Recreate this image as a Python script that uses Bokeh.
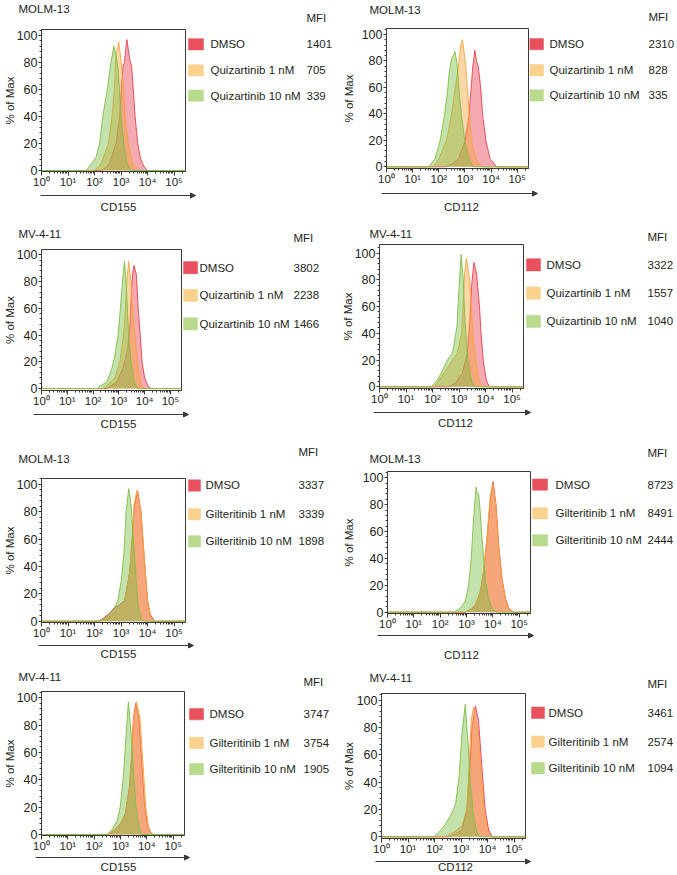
import math
from bokeh.plotting import figure
from bokeh.models import Arrow, NormalHead, FixedTicker, SingleIntervalTicker, Range1d
from bokeh.core.properties import value
from bokeh.layouts import column, row
from bokeh.embed import file_html
from bokeh.resources import INLINE

# ---------------- data (x in decades = log10 of intensity; y in % of Max) ----------------
DECADE_TICKS = [0, 1, 2, 3, 4, 5]
DECADE_LABELS = ["10⁰", "10¹", "10²", "10³", "10⁴", "10⁵"]
X_MAX = 5.43

m13_cd155_quiz_dmso_x = [0, 2.3, 2.56, 2.81, 2.95, 3.02, 3.08, 3.13, 3.18, 3.22, 3.27, 3.33, 3.4, 3.46, 3.53, 3.63, 3.72, 3.81, 3.9, 4.0, 5.43]
m13_cd155_quiz_dmso_y = [0, 0, 5, 20, 40, 64, 78, 80, 90, 97, 90, 82, 77, 60, 40, 20, 10, 5, 2, 0, 0]
m13_cd155_quiz_1nm_x = [0, 2.0, 2.25, 2.52, 2.66, 2.75, 2.81, 2.86, 2.91, 2.96, 3.02, 3.09, 3.15, 3.27, 3.44, 3.62, 5.43]
m13_cd155_quiz_1nm_y = [0, 0, 5, 20, 40, 60, 88, 90, 95, 88, 77, 60, 40, 20, 5, 0, 0]
m13_cd155_quiz_10nm_x = [0, 1.69, 1.88, 2.06, 2.19, 2.31, 2.48, 2.62, 2.73, 2.81, 2.88, 2.94, 3.0, 3.1, 3.23, 3.38, 5.43]
m13_cd155_quiz_10nm_y = [0, 0, 5, 10, 20, 40, 60, 80, 92, 85, 77, 60, 40, 20, 5, 0, 0]

m13_cd112_quiz_dmso_x = [0, 2.24, 2.5, 2.75, 3.0, 3.15, 3.23, 3.3, 3.38, 3.44, 3.51, 3.61, 3.68, 3.81, 3.96, 4.21, 5.43]
m13_cd112_quiz_dmso_y = [0, 0, 2, 6, 19, 38, 58, 76, 88, 80, 76, 58, 38, 19, 6, 0, 0]
m13_cd112_quiz_1nm_x = [0, 1.79, 1.98, 2.3, 2.49, 2.62, 2.75, 2.84, 2.9, 2.96, 3.03, 3.1, 3.17, 3.26, 3.41, 3.64, 5.43]
m13_cd112_quiz_1nm_y = [0, 0, 5, 20, 40, 58, 76, 92, 96, 88, 76, 58, 38, 19, 6, 0, 0]
m13_cd112_quiz_10nm_x = [0, 1.62, 1.85, 2.04, 2.21, 2.34, 2.39, 2.49, 2.56, 2.62, 2.71, 2.77, 2.87, 3.0, 3.15, 3.32, 5.43]
m13_cd112_quiz_10nm_y = [0, 0, 6, 19, 38, 58, 70, 82, 84, 87, 76, 58, 38, 19, 6, 0, 0]

mv4_cd155_quiz_dmso_x = [0, 2.54, 2.91, 3.16, 3.35, 3.44, 3.49, 3.55, 3.59, 3.68, 3.75, 3.83, 3.9, 4.0, 4.13, 4.25, 5.43]
mv4_cd155_quiz_dmso_y = [0, 0, 5, 15, 30, 50, 75, 88, 92, 85, 60, 40, 20, 8, 2, 0, 0]
mv4_cd155_quiz_1nm_x = [0, 2.42, 2.85, 3.04, 3.18, 3.26, 3.31, 3.38, 3.47, 3.53, 3.62, 3.72, 3.84, 3.97, 5.43]
mv4_cd155_quiz_1nm_y = [0, 0, 8, 20, 40, 60, 80, 95, 80, 60, 40, 20, 5, 0, 0]
mv4_cd155_quiz_10nm_x = [0, 0.08, 2.17, 2.29, 2.54, 2.73, 2.85, 2.97, 3.06, 3.14, 3.22, 3.28, 3.33, 3.38, 3.47, 3.59, 3.72, 5.43]
mv4_cd155_quiz_10nm_y = [1.5, 0, 0, 2, 5, 15, 25, 40, 60, 80, 95, 80, 60, 40, 20, 5, 0, 0]

mv4_cd112_quiz_dmso_x = [0, 2.62, 2.87, 3.12, 3.31, 3.41, 3.47, 3.56, 3.66, 3.77, 3.83, 3.91, 4.03, 4.14, 5.43]
mv4_cd112_quiz_dmso_y = [0, 0, 3, 10, 25, 50, 75, 93, 85, 60, 40, 20, 5, 0, 0]
mv4_cd112_quiz_1nm_x = [0, 2.06, 2.25, 2.5, 2.75, 2.93, 3.1, 3.15, 3.21, 3.28, 3.4, 3.46, 3.52, 3.62, 3.75, 3.87, 5.43]
mv4_cd112_quiz_1nm_y = [0, 0, 5, 12, 20, 25, 40, 60, 85, 96, 80, 60, 40, 20, 5, 0, 0]
mv4_cd112_quiz_10nm_x = [0, 1.94, 2.18, 2.37, 2.56, 2.75, 2.92, 3.0, 3.08, 3.16, 3.22, 3.33, 3.46, 3.58, 5.43]
mv4_cd112_quiz_10nm_y = [0, 0, 5, 12, 20, 25, 45, 75, 99, 80, 50, 20, 5, 0, 0]

m13_cd155_gilt_dmso_x = [0, 2.14, 2.32, 2.57, 2.76, 2.94, 3.13, 3.32, 3.44, 3.5, 3.63, 3.75, 3.88, 4.0, 4.1, 4.25, 5.43]
m13_cd155_gilt_dmso_y = [0, 0, 2, 6, 10, 12, 15, 35, 65, 85, 95, 80, 45, 15, 5, 0, 0]
m13_cd155_gilt_1nm_x = [0, 2.3, 2.6, 2.9, 3.13, 3.32, 3.44, 3.5, 3.6, 3.75, 3.88, 4.0, 4.1, 4.22, 5.43]
m13_cd155_gilt_1nm_y = [0, 0, 4, 9, 14, 35, 66, 86, 96, 80, 45, 15, 4, 0, 0]
m13_cd155_gilt_10nm_x = [0, 2.14, 2.26, 2.51, 2.76, 2.88, 3.01, 3.11, 3.19, 3.29, 3.38, 3.48, 3.57, 3.65, 3.75, 3.85, 5.43]
m13_cd155_gilt_10nm_y = [0, 0, 1, 4, 10, 15, 30, 50, 80, 97, 85, 55, 30, 10, 2, 0, 0]

m13_cd112_gilt_dmso_x = [0, 2.95, 3.14, 3.33, 3.52, 3.65, 3.78, 3.91, 4.01, 4.12, 4.22, 4.35, 4.48, 4.61, 4.76, 5.43]
m13_cd112_gilt_dmso_y = [0, 0, 2, 5, 15, 30, 55, 85, 97, 80, 50, 25, 10, 3, 0, 0]
m13_cd112_gilt_1nm_x = [0, 2.95, 3.14, 3.33, 3.52, 3.65, 3.78, 3.9, 4.0, 4.11, 4.21, 4.34, 4.47, 4.6, 4.75, 5.43]
m13_cd112_gilt_1nm_y = [0, 0, 2, 5, 15, 30, 56, 86, 96, 80, 50, 25, 10, 3, 0, 0]
m13_cd112_gilt_10nm_x = [0, 2.51, 2.76, 2.95, 3.08, 3.18, 3.27, 3.36, 3.41, 3.46, 3.52, 3.61, 3.71, 3.84, 3.97, 4.12, 5.43]
m13_cd112_gilt_10nm_y = [0, 0, 3, 8, 20, 40, 70, 93, 88, 88, 75, 50, 25, 10, 3, 0, 0]

mv4_cd155_gilt_dmso_x = [0, 2.56, 2.81, 3.0, 3.18, 3.34, 3.43, 3.49, 3.58, 3.7, 3.8, 3.9, 4.01, 4.13, 4.23, 5.43]
mv4_cd155_gilt_dmso_y = [0, 0, 4, 8, 15, 35, 60, 85, 96, 85, 55, 25, 8, 2, 0, 0]
mv4_cd155_gilt_1nm_x = [0, 2.5, 2.81, 3.0, 3.18, 3.34, 3.43, 3.5, 3.61, 3.74, 3.86, 3.96, 4.07, 4.2, 5.43]
mv4_cd155_gilt_1nm_y = [0, 0, 4, 8, 15, 33, 58, 85, 97, 85, 50, 20, 5, 0, 0]
mv4_cd155_gilt_10nm_x = [0, 2.5, 2.69, 2.87, 2.99, 3.12, 3.22, 3.3, 3.4, 3.49, 3.59, 3.7, 3.8, 5.43]
mv4_cd155_gilt_10nm_y = [0, 0, 4, 10, 20, 45, 75, 97, 75, 45, 20, 5, 0, 0]

mv4_cd112_gilt_dmso_x = [0, 2.53, 2.78, 3.03, 3.22, 3.35, 3.41, 3.54, 3.66, 3.79, 3.91, 4.04, 4.17, 5.43]
mv4_cd112_gilt_dmso_y = [0, 0, 2, 5, 20, 55, 80, 96, 85, 50, 20, 5, 0, 0]
mv4_cd112_gilt_1nm_x = [0, 2.4, 2.78, 3.03, 3.22, 3.32, 3.38, 3.47, 3.64, 3.76, 3.89, 4.02, 4.14, 5.43]
mv4_cd112_gilt_1nm_y = [0, 0, 4, 8, 20, 60, 85, 95, 75, 45, 15, 3, 0, 0]
mv4_cd112_gilt_10nm_x = [0, 1.96, 2.15, 2.37, 2.59, 2.71, 2.8, 2.93, 3.03, 3.16, 3.26, 3.35, 3.47, 3.6, 3.72, 5.43]
mv4_cd112_gilt_10nm_y = [0, 0, 3, 8, 15, 20, 25, 45, 75, 97, 70, 40, 15, 3, 0, 0]

quiz_labels = ["DMSO", "Quizartinib 1 nM", "Quizartinib 10 nM"]
gilt_labels = ["DMSO", "Gilteritinib 1 nM", "Gilteritinib 10 nM"]

mfi_m13_cd155_quiz = [1401, 705, 339]
mfi_m13_cd112_quiz = [2310, 828, 335]
mfi_mv4_cd155_quiz = [3802, 2238, 1466]
mfi_mv4_cd112_quiz = [3322, 1557, 1040]
mfi_m13_cd155_gilt = [3337, 3339, 1898]
mfi_m13_cd112_gilt = [8723, 8491, 2444]
mfi_mv4_cd155_gilt = [3747, 3754, 1905]
mfi_mv4_cd112_gilt = [3461, 2574, 1094]

# ---------------- styles ----------------
FONT = "Liberation Sans"
TEXT = "#231f20"
AXIS = "#3a3a3a"
CURVE_COLORS = ["#E8414F", "#F7A43B", "#7DBF45"]
SQUARE_COLORS = ["#E9505D", "#FAD28E", "#B8DA8C"]
TXT_PX = 11.5
TXT = "%gpx" % TXT_PX
YTICK = 12.5
XTICK = "11.5px"


# reference-coordinate -> layout-coordinate mapping (the page has no margin)
def fx(x):
    return x


def fy(y):
    return y


COL_EDGES = [0, 338, 676]
ROW_EDGES = [0, 220, 437, 665, 874]

# panel geometry, reference pixel coordinates
GEOM = [
    dict(L=40, R=185, T=29, y0=171, y100=35, title=(18, 8), hdr=(306, 17), sq=(188, 203, 13), rows=(44, 74, 103), lab=210, mfi=306, arrow=(195, 40, 195), xlab=(118, 206), ylab=10),
    dict(L=386, R=528, T=28, y0=168.3, y100=34, title=(369, 9), hdr=(648, 16), sq=(529, 543, 13), rows=(44, 74, 103), lab=549, mfi=648, arrow=(193, 381, 537), xlab=(461, 206), ylab=350.5),
    dict(L=35, R=181, T=249, y0=390, y100=254.3, title=(18, 233), hdr=(293, 237), sq=(183, 197, 14), rows=(267, 299, 332), lab=199, mfi=293, arrow=(414, 33, 188), xlab=(118, 423), ylab=9),
    dict(L=378, R=523, T=244, y0=388.3, y100=252.7, title=(369, 233), hdr=(647, 236), sq=(526, 540, 14), rows=(267, 299, 331), lab=546, mfi=647, arrow=(412, 373, 530), xlab=(455, 422), ylab=350),
    dict(L=39, R=185, T=478, y0=621.7, y100=484, title=(18, 458), hdr=(298, 451), sq=(188, 200, 13), rows=(484, 517, 548), lab=205, mfi=298, arrow=(645, 38, 193), xlab=(118, 653), ylab=9),
    dict(L=387, R=530, T=471, y0=612.7, y100=477.3, title=(369, 458), hdr=(647, 452), sq=(532, 547, 13), rows=(484, 517, 548), lab=555, mfi=647, arrow=(635, 377, 533), xlab=(461, 654), ylab=350),
    dict(L=38, R=184, T=691, y0=835, y100=697.3, title=(18, 676), hdr=(303, 685), sq=(189, 203, 13), rows=(715, 748, 778), lab=209, mfi=303, arrow=(857, 35, 189), xlab=(118, 868), ylab=9),
    dict(L=381, R=525, T=693, y0=838.3, y100=700, title=(369, 677), hdr=(647, 683), sq=(531, 544, 13), rows=(714, 747, 777), lab=548, mfi=647, arrow=(861, 375, 530), xlab=(455, 868), ylab=350),
]

PANELS = [
    ("MOLM-13", "CD155", quiz_labels, mfi_m13_cd155_quiz,
     [(m13_cd155_quiz_dmso_x, m13_cd155_quiz_dmso_y), (m13_cd155_quiz_1nm_x, m13_cd155_quiz_1nm_y), (m13_cd155_quiz_10nm_x, m13_cd155_quiz_10nm_y)]),
    ("MOLM-13", "CD112", quiz_labels, mfi_m13_cd112_quiz,
     [(m13_cd112_quiz_dmso_x, m13_cd112_quiz_dmso_y), (m13_cd112_quiz_1nm_x, m13_cd112_quiz_1nm_y), (m13_cd112_quiz_10nm_x, m13_cd112_quiz_10nm_y)]),
    ("MV-4-11", "CD155", quiz_labels, mfi_mv4_cd155_quiz,
     [(mv4_cd155_quiz_dmso_x, mv4_cd155_quiz_dmso_y), (mv4_cd155_quiz_1nm_x, mv4_cd155_quiz_1nm_y), (mv4_cd155_quiz_10nm_x, mv4_cd155_quiz_10nm_y)]),
    ("MV-4-11", "CD112", quiz_labels, mfi_mv4_cd112_quiz,
     [(mv4_cd112_quiz_dmso_x, mv4_cd112_quiz_dmso_y), (mv4_cd112_quiz_1nm_x, mv4_cd112_quiz_1nm_y), (mv4_cd112_quiz_10nm_x, mv4_cd112_quiz_10nm_y)]),
    ("MOLM-13", "CD155", gilt_labels, mfi_m13_cd155_gilt,
     [(m13_cd155_gilt_dmso_x, m13_cd155_gilt_dmso_y), (m13_cd155_gilt_1nm_x, m13_cd155_gilt_1nm_y), (m13_cd155_gilt_10nm_x, m13_cd155_gilt_10nm_y)]),
    ("MOLM-13", "CD112", gilt_labels, mfi_m13_cd112_gilt,
     [(m13_cd112_gilt_dmso_x, m13_cd112_gilt_dmso_y), (m13_cd112_gilt_1nm_x, m13_cd112_gilt_1nm_y), (m13_cd112_gilt_10nm_x, m13_cd112_gilt_10nm_y)]),
    ("MV-4-11", "CD155", gilt_labels, mfi_mv4_cd155_gilt,
     [(mv4_cd155_gilt_dmso_x, mv4_cd155_gilt_dmso_y), (mv4_cd155_gilt_1nm_x, mv4_cd155_gilt_1nm_y), (mv4_cd155_gilt_10nm_x, mv4_cd155_gilt_10nm_y)]),
    ("MV-4-11", "CD112", gilt_labels, mfi_mv4_cd112_gilt,
     [(mv4_cd112_gilt_dmso_x, mv4_cd112_gilt_dmso_y), (mv4_cd112_gilt_1nm_x, mv4_cd112_gilt_1nm_y), (mv4_cd112_gilt_10nm_x, mv4_cd112_gilt_10nm_y)]),
]

MINOR_X = [math.log10(k) + d for d in range(0, 6) for k in range(2, 10) if math.log10(k) + d < X_MAX]


def canvas_fig(w, h):
    """A figure whose frame fills the whole canvas; data units = pixels, y pointing down."""
    f = figure(width=w, height=h, output_backend="svg", toolbar_location=None, title=None,
               x_range=Range1d(0, w), y_range=Range1d(h, 0),
               x_axis_location=None, y_axis_location=None,
               min_border_left=0, min_border_right=0, min_border_top=0, min_border_bottom=0)
    f.grid.visible = False
    f.outline_line_color = None
    f.background_fill_color = "white"
    f.border_fill_color = "white"
    return f


def put_text(f, xs, ys, texts, align="left"):
    f.text(x=xs, y=ys, text=texts, text_font=value(FONT), text_font_size=value(TXT),
           text_color=TEXT, text_align=align, text_baseline="middle")


def clamp(v, lo, hi):
    return max(lo, min(hi, v))


def make_panel(idx):
    cell, marker, labels, mfis, curves = PANELS[idx]
    g = GEOM[idx]
    col, rw = idx % 2, idx // 2
    cl, cr = COL_EDGES[col], COL_EDGES[col + 1]
    rt, rb = ROW_EDGES[rw], ROW_EDGES[rw + 1]
    W = cr - cl

    B_ref = g["y0"] + 1.5
    mid_top_ref = min(g["T"], g["y100"] - 7.5) - 0.5
    mid_bot_ref = min(B_ref + 17.5, g["arrow"][0] - 3)
    y_mt = round(fy(mid_top_ref))
    y_mb = round(fy(mid_bot_ref))
    frame_l = round(fx(g["L"]))
    frame_r = round(fx(g["R"]))
    frame_t = round(fy(g["T"]))
    frame_b = round(fy(B_ref))

    h_top, h_mid, h_bot = y_mt - rt, y_mb - y_mt, rb - y_mb
    w_plot = frame_r + 1 - cl
    w_leg = W - w_plot
    half = TXT_PX * 0.62

    # ---------- plot ----------
    ppu = (fy(g["y0"]) - fy(g["y100"])) / 100.0
    ymax = (fy(g["y0"]) - frame_t) / ppu
    ymin = -(frame_b - fy(g["y0"])) / ppu
    bl = frame_l - cl
    p = figure(width=w_plot, height=h_mid, output_backend="svg", toolbar_location=None, title=None,
               x_range=Range1d(0, X_MAX), y_range=Range1d(ymin, ymax),
               min_border_left=bl, min_border_right=1,
               min_border_top=frame_t - y_mt, min_border_bottom=y_mb - frame_b)
    p.grid.visible = False
    p.outline_line_color = AXIS
    p.outline_line_width = 1
    p.background_fill_color = "white"
    p.border_fill_color = "white"

    for (xs, ys), c in zip(curves, CURVE_COLORS):
        p.varea(x=xs, y1=0, y2=ys, fill_color=c, fill_alpha=0.45)
        p.line(x=xs, y=ys, line_color=c, line_width=1, line_alpha=0.9)

    xa = p.xaxis[0]
    xa.ticker = FixedTicker(ticks=DECADE_TICKS, minor_ticks=MINOR_X)
    xa.major_label_overrides = {t: s for t, s in zip(DECADE_TICKS, DECADE_LABELS)}
    ya = p.yaxis[0]
    ya.ticker = SingleIntervalTicker(interval=20, num_minor_ticks=5)
    for ax in (xa, ya):
        ax.axis_line_color = AXIS
        ax.major_tick_line_color = AXIS
        ax.minor_tick_line_color = AXIS
        ax.major_tick_in = 0
        ax.minor_tick_in = 0
        ax.minor_tick_out = 2
        ax.major_label_text_font = FONT
        ax.major_label_text_color = TEXT
    xa.major_label_text_font_size = XTICK
    ya.major_label_text_font_size = "%gpx" % YTICK
    xa.major_tick_out = 4
    xa.major_label_standoff = 0
    ya.major_tick_out = 3
    ya.major_label_standoff = 1

    tick_ext = 3 + 1 + 3 * 0.556 * YTICK
    lab_h = TXT_PX * 1.12
    want = (frame_l - fx(g["ylab"])) - lab_h / 2 - tick_ext
    standoff = int(math.floor(min(want, bl - tick_ext - lab_h - 0.5)))
    standoff = max(-2, standoff)
    ya.axis_label = "% of Max"
    ya.axis_label_text_font = FONT
    ya.axis_label_text_font_size = TXT
    ya.axis_label_text_font_style = "normal"
    ya.axis_label_text_color = TEXT
    ya.axis_label_standoff = standoff

    # ---------- top strip: cell line + MFI header ----------
    top = canvas_fig(W, h_top)
    ty = [clamp(fy(g["title"][1]) - rt, half, h_top - half),
          clamp(fy(g["hdr"][1]) - rt, half, h_top - half)]
    put_text(top, [fx(g["title"][0]) - cl, fx(g["hdr"][0]) - cl], ty, [cell, "MFI"])

    # ---------- legend area ----------
    leg_x0 = cl + w_plot
    leg = canvas_fig(w_leg, h_mid)
    sq0, sq1, sqh = g["sq"]
    sq_cx = (fx(sq0) + fx(sq1)) / 2 - leg_x0
    sq_w = fx(sq1) - fx(sq0)
    ys = [fy(r) - y_mt for r in g["rows"]]
    leg.rect(x=[sq_cx] * 3, y=ys, width=sq_w, height=sqh,
             fill_color=SQUARE_COLORS, line_color=SQUARE_COLORS, line_alpha=0.5)
    put_text(leg, [fx(g["lab"]) - leg_x0] * 3, ys, labels)
    put_text(leg, [fx(g["mfi"]) - leg_x0] * 3, ys, [str(v) for v in mfis])

    # ---------- bottom strip: arrow + marker label ----------
    bot = canvas_fig(W, h_bot)
    ay, ax0, ax1 = g["arrow"]
    yy = fy(ay) - y_mb
    bot.add_layout(Arrow(x_start=fx(ax0) - cl, y_start=yy, x_end=fx(ax1) - cl, y_end=yy,
                         line_color=AXIS, line_width=1.2,
                         end=NormalHead(size=5, fill_color=AXIS, line_color=AXIS)))
    put_text(bot, [fx(g["xlab"][0]) - cl], [clamp(fy(g["xlab"][1]) - y_mb, half, h_bot - half)],
             [marker], align="center")

    return column(top, row(p, leg), bot)


panels = [make_panel(i) for i in range(8)]
layout = column(*[row(panels[2 * r], panels[2 * r + 1]) for r in range(4)])

open("out.html", "w").write(file_html(layout, INLINE))
